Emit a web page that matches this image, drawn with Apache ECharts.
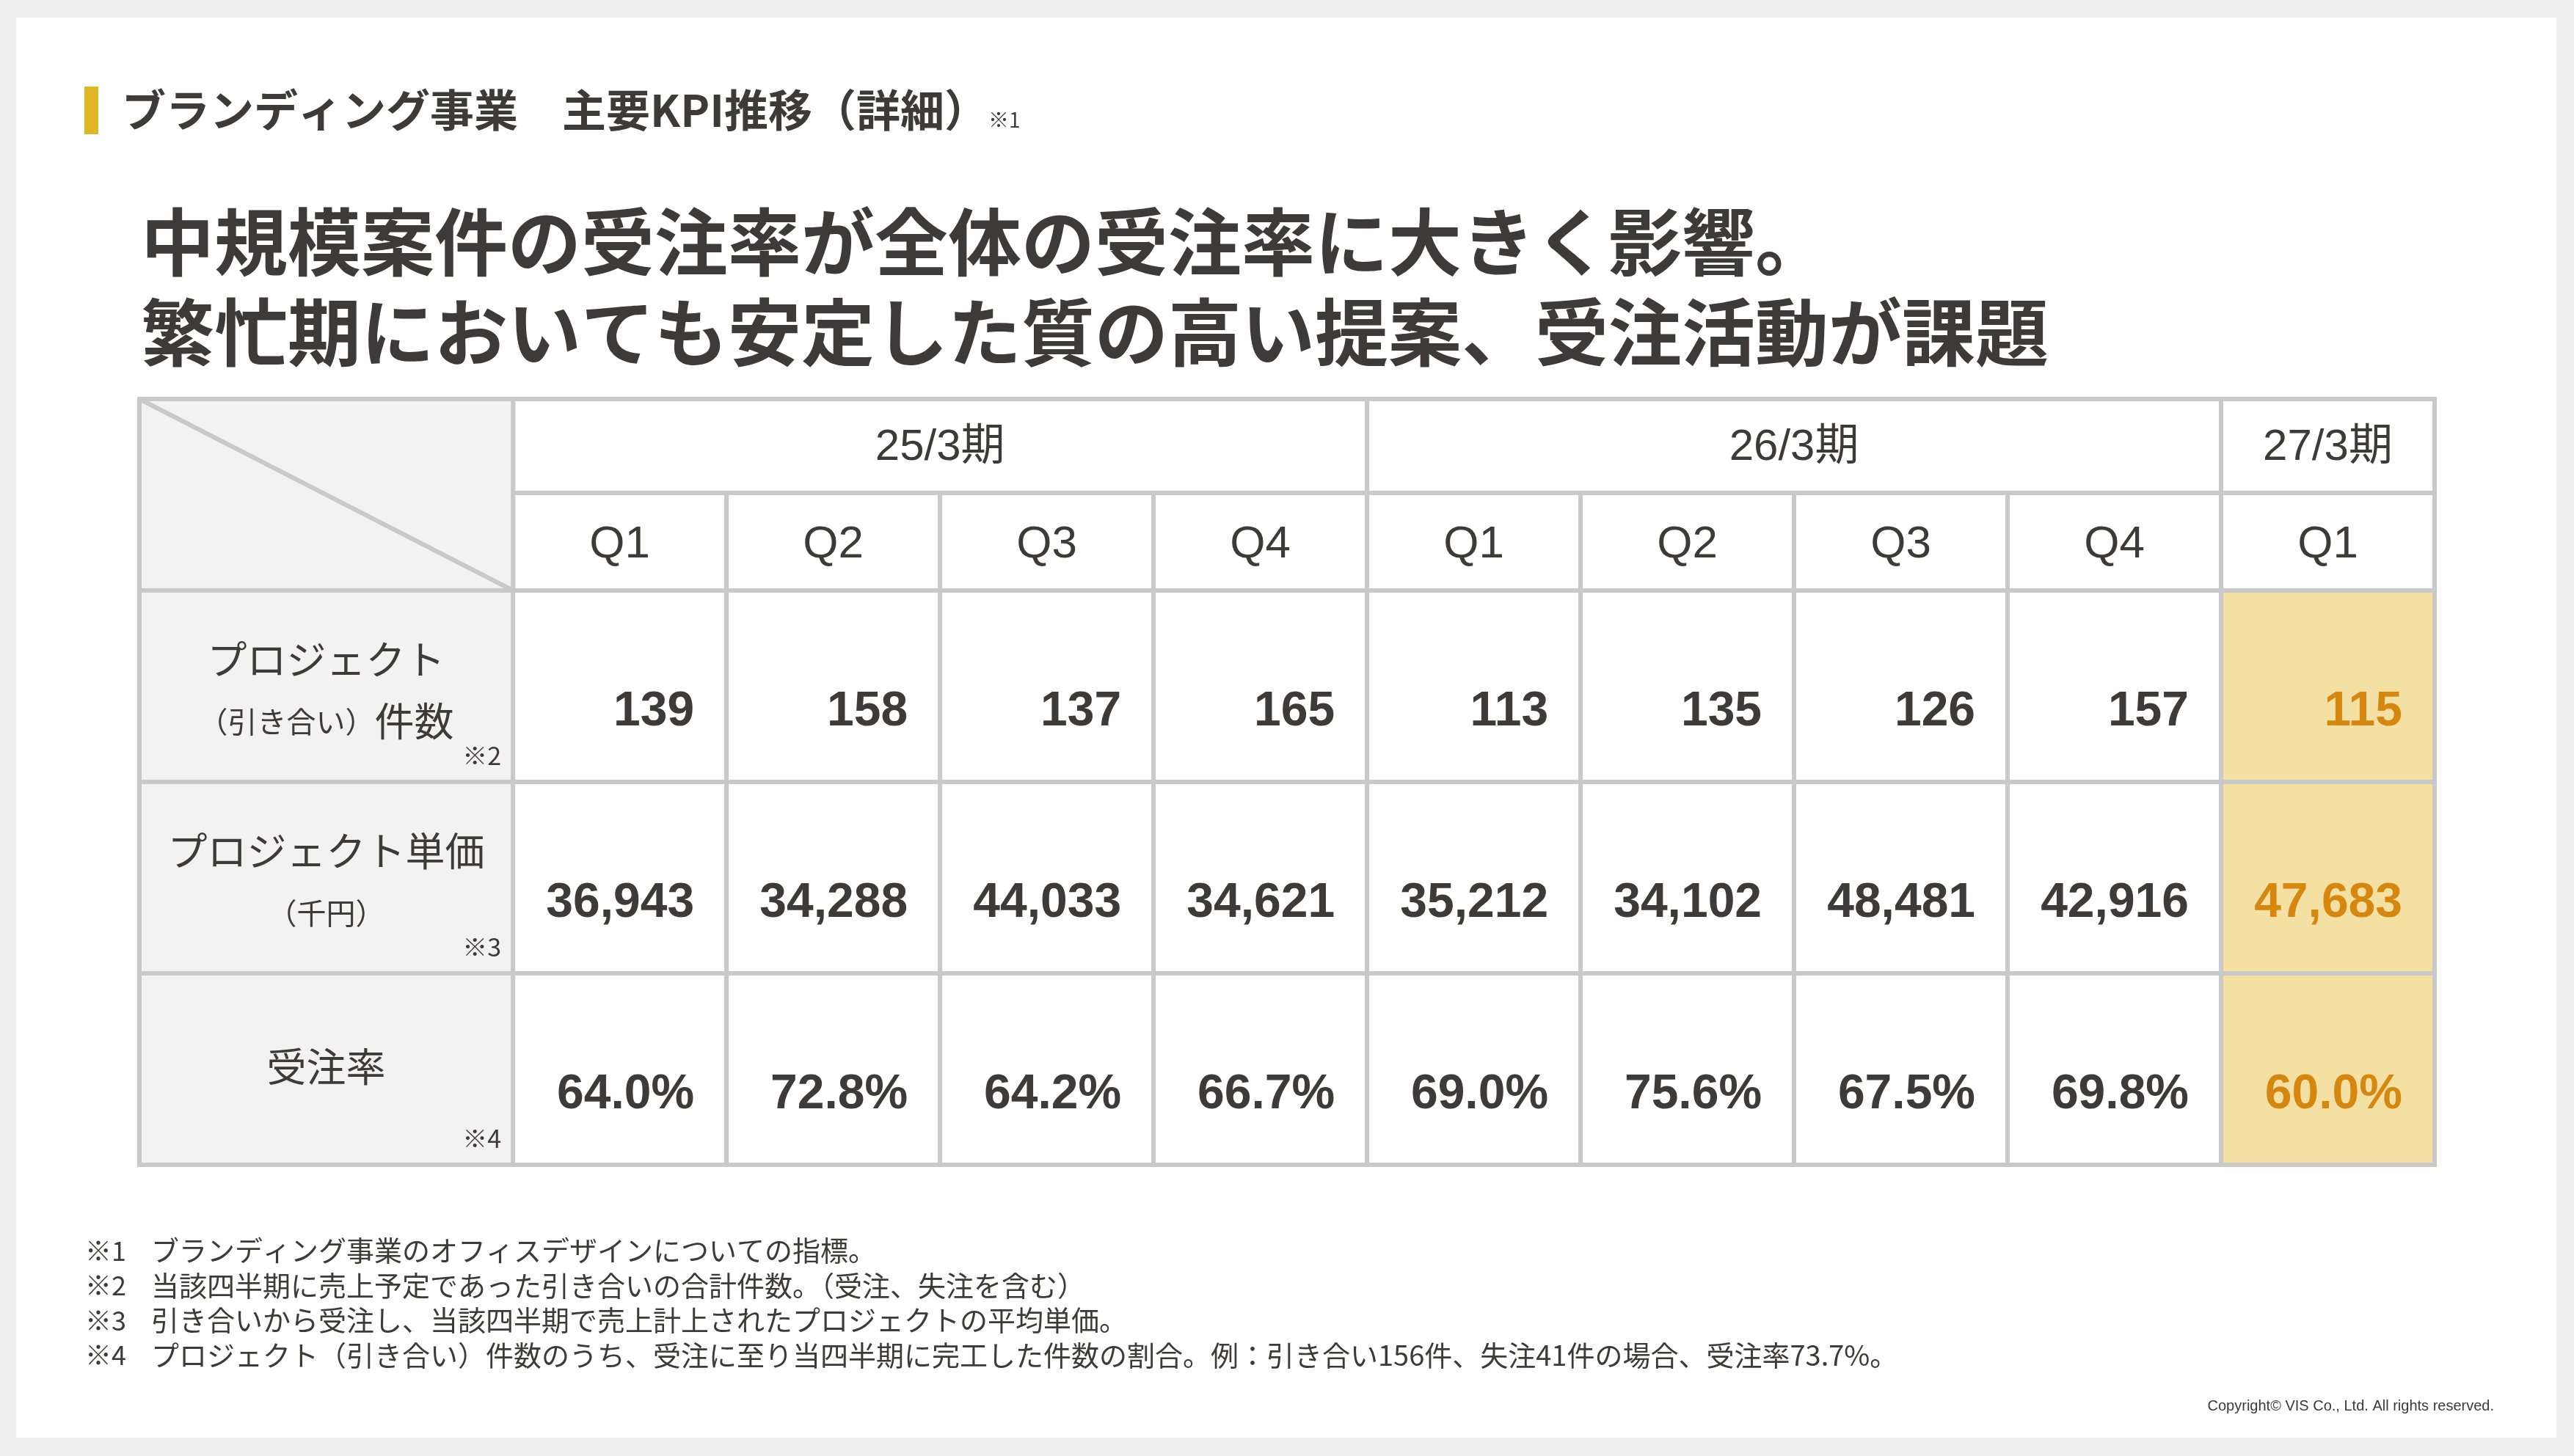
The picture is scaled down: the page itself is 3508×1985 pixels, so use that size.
<!DOCTYPE html>
<html>
<head>
<meta charset="utf-8">
<script src="https://cdn.jsdelivr.net/npm/echarts@6/dist/echarts.min.js"></script>
<style>
html, body { margin: 0; padding: 0; background: #efefef; }
#chart { width: 3508px; height: 1985px; }
</style>
</head>
<body>
<div id="chart"></div>
<script>
// table data
var periods = ['25/3期', '26/3期', '27/3期'];
var periodSpans = [4, 4, 1];
var quarters = ['Q1', 'Q2', 'Q3', 'Q4', 'Q1', 'Q2', 'Q3', 'Q4', 'Q1'];
var projectCount = [139, 158, 137, 165, 113, 135, 126, 157, 115];
var unitPrice = [36943, 34288, 44033, 34621, 35212, 34102, 48481, 42916, 47683];
var winRate = [64.0, 72.8, 64.2, 66.7, 69.0, 75.6, 67.5, 69.8, 60.0];
var highlightCol = 8;

var rowTitles = ['プロジェクト', 'プロジェクト単価', '受注率'];
var rowSubs = ['{s|（引き合い）}{b|件数}', '{s|（千円）}', ''];
var rowNotes = ['※2', '※3', '※4'];

var pageTitle = 'ブランディング事業　主要KPI推移（詳細）';
var headline = ['中規模案件の受注率が全体の受注率に大きく影響。', '繁忙期においても安定した質の高い提案、受注活動が課題'];
var footMarks = ['※1', '※2', '※3', '※4'];
var footTexts = [
    'ブランディング事業のオフィスデザインについての指標。',
    '当該四半期に売上予定であった引き合いの合計件数。（受注、失注を含む）',
    '引き合いから受注し、当該四半期で売上計上されたプロジェクトの平均単価。',
    'プロジェクト（引き合い）件数のうち、受注に至り当四半期に完工した件数の割合。例：引き合い156件、失注41件の場合、受注率73.7%。'
];
var copyright = 'Copyright© VIS Co., Ltd. All rights reserved.';

var TEXT = '#3e3a39';
var LINE = '#c9c9c9';
var LABEL_FILL = '#f2f2f2';
var HI_FILL = '#f5e0a4';
var HI_TEXT = '#d5870f';
var CJK = '"Noto Sans CJK JP", sans-serif';
var LAT = '"Liberation Sans", Arial, "Noto Sans CJK JP", sans-serif';
var LABEL_W = 1.75;   // width of the label column, in quarter-column units
var HDR_SPLIT = 0.49; // split between period row and quarter row

var valueRows = [projectCount, unitPrice, winRate];
var cellData = [];
valueRows.forEach(function (arr, r) {
    arr.forEach(function (v, c) { cellData.push([c, r + 1, v]); });
});
var quarterData = quarters.map(function (q, i) { return [i, HDR_SPLIT]; });
var periodData = [];
var start = 0;
periods.forEach(function (p, i) { periodData.push([start, 0, periodSpans[i]]); start += periodSpans[i]; });
var labelData = rowTitles.map(function (t, i) { return [-LABEL_W, i + 1]; });

function fmt(r, v) {
    if (r === 1) return String(v);
    if (r === 2) return v.toLocaleString('en-US');
    return v.toFixed(1) + '%';
}

function box(p0, p1, fill) {
    return {
        type: 'rect',
        shape: { x: p0[0], y: p0[1], width: p1[0] - p0[0], height: p1[1] - p0[1] },
        style: { fill: fill, stroke: LINE, lineWidth: 6 }
    };
}

var chart = echarts.init(document.getElementById('chart'));

var graphics = [
    { type: 'rect', shape: { x: 22, y: 24, width: 3462, height: 1936 }, style: { fill: '#ffffff' }, z: -10 },
    { type: 'rect', shape: { x: 115, y: 118, width: 19, height: 65 }, style: { fill: '#dfb725' } },
    {
        type: 'text', x: 166, y: 150,
        style: {
            text: '{t|' + pageTitle + '}{n|※1}', textVerticalAlign: 'middle', textAlign: 'left',
            rich: {
                t: { font: 'bold 60px ' + CJK, fill: TEXT, lineHeight: 70 },
                n: { font: '28px ' + CJK, fill: TEXT, verticalAlign: 'bottom', padding: [0, 0, 8, 0] }
            }
        }
    },
    {
        type: 'text', x: 3399, y: 1917,
        style: { text: copyright, font: '20px ' + LAT, fill: TEXT, textAlign: 'right', textVerticalAlign: 'middle' }
    }
];
headline.forEach(function (line, i) {
    graphics.push({
        type: 'text', x: 192, y: 330 + i * 123,
        style: { text: line, font: 'bold 100px ' + CJK, fill: TEXT, textAlign: 'left', textVerticalAlign: 'middle' }
    });
});
footTexts.forEach(function (line, i) {
    var y = 1705 + i * 47.5;
    graphics.push({
        type: 'text', x: 116, y: y,
        style: { text: footMarks[i], font: '36px ' + CJK, fill: TEXT, textAlign: 'left', textVerticalAlign: 'middle' }
    });
    graphics.push({
        type: 'text', x: 206, y: y,
        style: { text: line, font: '38px ' + CJK, fill: TEXT, textAlign: 'left', textVerticalAlign: 'middle' }
    });
});

var option = {
    backgroundColor: '#efefef',
    animation: false,
    graphic: graphics,
    grid: { left: 190, top: 544, width: 3128, height: 1044 },
    xAxis: { type: 'value', min: -LABEL_W, max: quarters.length, show: false },
    yAxis: { type: 'value', min: 0, max: 4, inverse: true, show: false },
    series: [
        {
            // period header row
            type: 'custom', clip: false, data: periodData,
            renderItem: function (params, api) {
                var s = api.value(0), span = api.value(2);
                var p0 = api.coord([s, 0]), p1 = api.coord([s + span, HDR_SPLIT]);
                return { type: 'group', children: [
                    box(p0, p1, '#ffffff'),
                    { type: 'text', style: { x: (p0[0] + p1[0]) / 2, y: (p0[1] + p1[1]) / 2 + 3,
                        text: periods[params.dataIndex], font: '60px ' + LAT, fill: TEXT,
                        textAlign: 'center', textVerticalAlign: 'middle' } }
                ] };
            }
        },
        {
            // quarter header row
            type: 'custom', clip: false, data: quarterData,
            renderItem: function (params, api) {
                var c = api.value(0);
                var p0 = api.coord([c, HDR_SPLIT]), p1 = api.coord([c + 1, 1]);
                return { type: 'group', children: [
                    box(p0, p1, '#ffffff'),
                    { type: 'text', style: { x: (p0[0] + p1[0]) / 2, y: (p0[1] + p1[1]) / 2 + 4,
                        text: quarters[params.dataIndex], font: '62px ' + LAT, fill: TEXT,
                        textAlign: 'center', textVerticalAlign: 'middle' } }
                ] };
            }
        },
        {
            // corner cell with diagonal
            type: 'custom', clip: false, data: [[-LABEL_W, 0]],
            renderItem: function (params, api) {
                var p0 = api.coord([-LABEL_W, 0]), p1 = api.coord([0, 1]);
                return { type: 'group', children: [
                    box(p0, p1, LABEL_FILL),
                    { type: 'line', shape: { x1: p0[0], y1: p0[1], x2: p1[0], y2: p1[1] },
                      style: { stroke: LINE, lineWidth: 6 } }
                ] };
            }
        },
        {
            // row label column
            type: 'custom', clip: false, data: labelData,
            renderItem: function (params, api) {
                var i = params.dataIndex, r = api.value(1);
                var p0 = api.coord([-LABEL_W, r]), p1 = api.coord([0, r + 1]);
                var cx = (p0[0] + p1[0]) / 2, cy = (p0[1] + p1[1]) / 2;
                var hasSub = rowSubs[i] !== '';
                var kids = [
                    box(p0, p1, LABEL_FILL),
                    { type: 'text', style: { x: cx, y: cy + (hasSub ? -36 : -3), text: rowTitles[i],
                        font: '54px ' + CJK, fill: TEXT, textAlign: 'center', textVerticalAlign: 'middle' } },
                    { type: 'text', style: { x: p1[0] - 16, y: cy + 95, text: rowNotes[i],
                        font: '34px ' + CJK, fill: TEXT, textAlign: 'right', textVerticalAlign: 'middle' } }
                ];
                if (hasSub) {
                    kids.push({ type: 'text', style: { x: cx, y: cy + 48, text: rowSubs[i],
                        textAlign: 'center', textVerticalAlign: 'middle',
                        rich: {
                            s: { font: '40px ' + CJK, fill: TEXT },
                            b: { font: '54px ' + CJK, fill: TEXT }
                        } } });
                }
                return { type: 'group', children: kids };
            }
        },
        {
            // value cells
            type: 'custom', clip: false, data: cellData,
            renderItem: function (params, api) {
                var c = api.value(0), r = api.value(1), v = api.value(2);
                var p0 = api.coord([c, r]), p1 = api.coord([c + 1, r + 1]);
                var hi = c === highlightCol;
                return { type: 'group', children: [
                    box(p0, p1, hi ? HI_FILL : '#ffffff'),
                    { type: 'text', style: { x: p1[0] - 44, y: (p0[1] + p1[1]) / 2 + 35, text: fmt(r, v),
                        font: 'bold 66px ' + LAT, fill: hi ? HI_TEXT : TEXT,
                        textAlign: 'right', textVerticalAlign: 'middle' } }
                ] };
            }
        }
    ]
};
chart.setOption(option);
</script>
</body>
</html>
